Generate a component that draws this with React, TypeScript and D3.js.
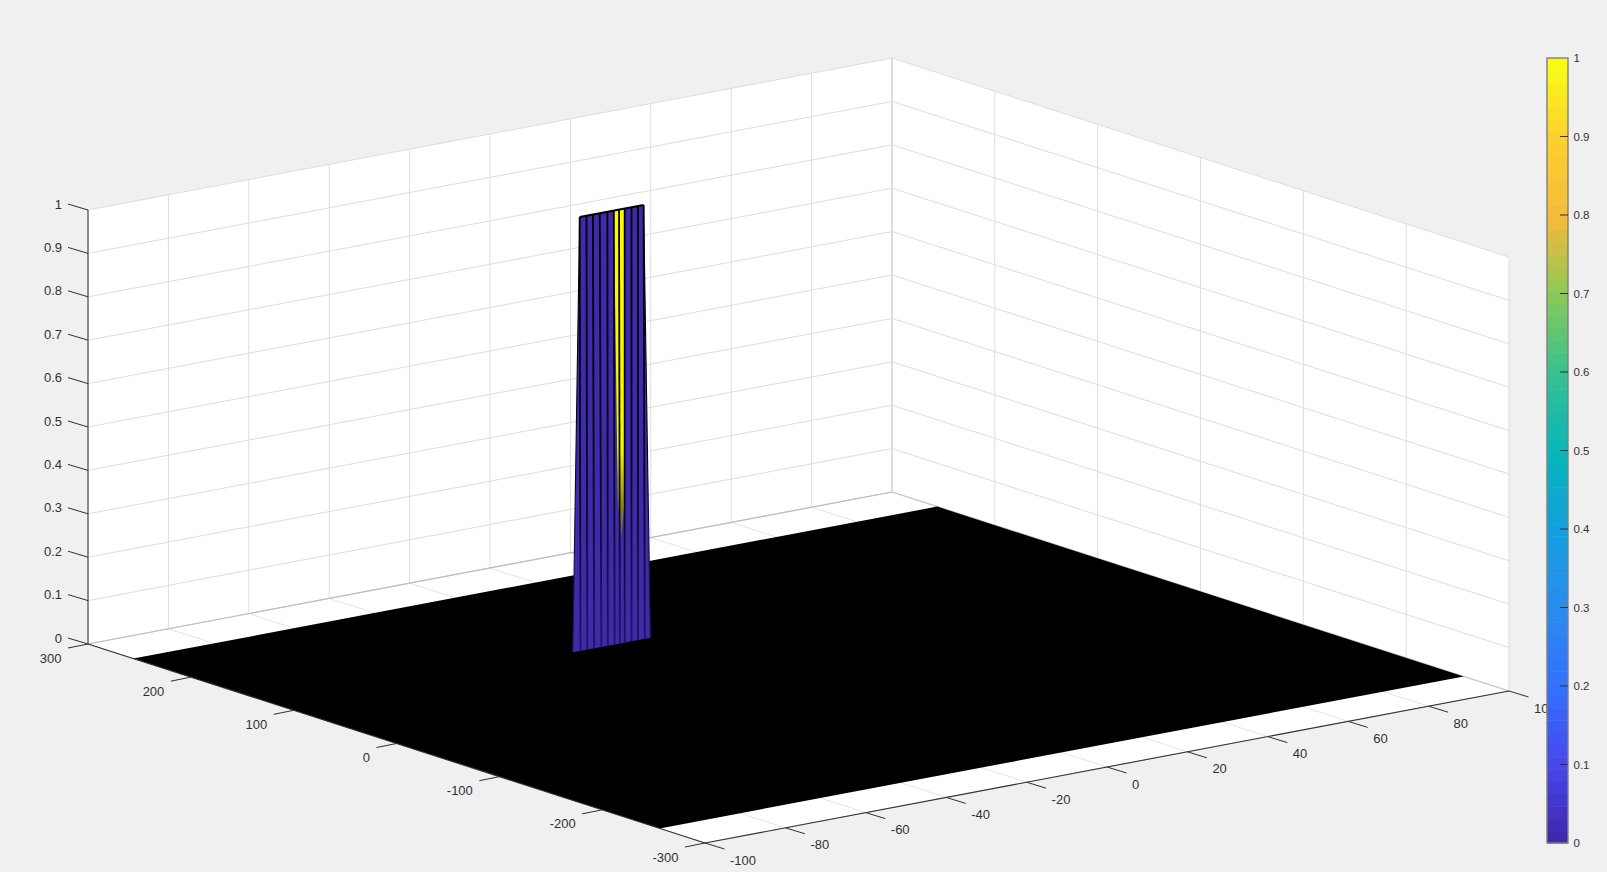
import React from "react";
import * as d3 from "d3";

const xTicks = [-100, -80, -60, -40, -20, 0, 20, 40, 60, 80, 100];
const yTicks = [-300, -200, -100, 0, 100, 200, 300];
const zTicks = [0, 0.1, 0.2, 0.3, 0.4, 0.5, 0.6, 0.7, 0.8, 0.9, 1];
const floorX = [-100, 100];
const floorY = [-256, 256];
const wallY = 110;
const wallTopX = [-26.3, -24.6, -23.0, -21.3, -19.4, -17.8, -16.5, -15.1, -13.4, -11.8, -10.4];
const wallBaseX = [-28.0, -26.1, -24.4, -22.7, -20.9, -19.3, -17.6, -16.3, -15.1, -13.4, -11.8, -10.1, -8.7];
const yellowZ = [1, 0.33, 0.25];
const yellowLeftX = [-17.8, -16.8, -16.2];
const yellowMidX = [-16.5, -16.4, -16.2];
const yellowRightX = [-15.1, -15.1, -15.8];
const parulaStops = ["#3e26a8", "#4747eb", "#3371fd", "#2a8bee", "#139fde", "#06b6bb", "#35c093", "#86c958", "#f4ba3a", "#fccf30", "#f9fb15"];

const px = d3.scaleLinear().domain([-100, 100]).range([0, 804]);
const py = d3.scaleLinear().domain([-100, 100]).range([0, -152]);
const qx = d3.scaleLinear().domain([-300, 300]).range([0, -617]);
const qy = d3.scaleLinear().domain([-300, 300]).range([0, -199]);
const zy = d3.scaleLinear().domain([0, 1]).range([0, -434]);
const OX = 705;
const OY = 843;
const P = (x: number, y: number, z: number): [number, number] => [OX + px(x) + qx(y), OY + py(x) + qy(y) + zy(z)];
const pts = (a: [number, number][]) => a.map((p) => p.join(",")).join(" ");
const seg = (a: [number, number], b: [number, number], stroke: string, w: number, key: string, extra: any = {}) => (
  <line key={key} x1={a[0]} y1={a[1]} x2={b[0]} y2={b[1]} stroke={stroke} strokeWidth={w} {...extra} />
);

const colorAt = d3.scaleLinear<string>().domain(zTicks).range(parulaStops).interpolate(d3.interpolateRgb);
const cbY = d3.scaleLinear().domain([0, 1]).range([843, 58]);
const bands = d3.range(64);

const GRID = "#dddddd";
const FLOORGRID = "#e4e4e4";
const AX = "#303030";
const BLUE = "#3f2aa9";
const FONT = "'Liberation Sans', Arial, sans-serif";

export default function App() {
  const xA = -100, xB = 100, yA = -300, yB = 300;
  const outX = (x: number, y: number, z: number) => {
    const [a, b] = P(x, y, z);
    return [a + 19.5, b + 6] as [number, number];
  };
  const outY = (x: number, y: number, z: number) => {
    const [a, b] = P(x, y, z);
    return [a - 20, b + 4] as [number, number];
  };
  const outZ = (x: number, y: number, z: number) => {
    const [a, b] = P(x, y, z);
    return [a - 20, b - 6] as [number, number];
  };
  const strips: React.ReactNode[] = [];
  const n = wallTopX.length;
  strips.push(
    <polygon key="triL" points={pts([P(wallTopX[0], wallY, 1), P(wallBaseX[0], wallY, 0), P(wallBaseX[1], wallY, 0)])} fill={BLUE} />,
    <polygon key="triR" points={pts([P(wallTopX[n - 1], wallY, 1), P(wallBaseX[n], wallY, 0), P(wallBaseX[n + 1], wallY, 0)])} fill={BLUE} />
  );
  for (let i = 0; i < n - 1; i++) {
    strips.push(
      <polygon
        key={"s" + i}
        points={pts([P(wallTopX[i], wallY, 1), P(wallTopX[i + 1], wallY, 1), P(wallBaseX[i + 2], wallY, 0), P(wallBaseX[i + 1], wallY, 0)])}
        fill={BLUE}
      />
    );
  }
  const leftPoly = [...yellowLeftX.map((x, i) => P(x, wallY, yellowZ[i])), ...yellowMidX.map((x, i) => P(x, wallY, yellowZ[i])).reverse()];
  const rightPoly = [...yellowMidX.map((x, i) => P(x, wallY, yellowZ[i])), ...yellowRightX.map((x, i) => P(x, wallY, yellowZ[i])).reverse()];
  const wallLines: React.ReactNode[] = [];
  wallTopX.forEach((x, i) => {
    wallLines.push(seg(P(x, wallY, 1), P(wallBaseX[i + 1], wallY, 0), "url(#lineFade)", 1.8, "l" + i));
  });
  wallLines.push(seg(P(wallTopX[0], wallY, 1), P(wallBaseX[0], wallY, 0), "url(#lineFade)", 1.1, "le"));
  wallLines.push(seg(P(wallTopX[n - 1], wallY, 1), P(wallBaseX[n + 1], wallY, 0), "url(#lineFade)", 1.1, "re"));

  return (
    <svg width={1607} height={872} style={{ position: "absolute", left: 0, top: 0, background: "#f0f0f0", fontFamily: FONT }}>
      <defs>
        <linearGradient id="lineFade" gradientUnits="userSpaceOnUse" x1="0" y1="205" x2="0" y2="650">
          <stop offset="0" stopColor="#000000" />
          <stop offset="0.6" stopColor="#06041c" />
          <stop offset="1" stopColor="#1e1660" />
        </linearGradient>
        <linearGradient id="yellowFade" gradientUnits="userSpaceOnUse" x1="0" y1="205" x2="0" y2="545">
          <stop offset="0" stopColor="#fbfb00" />
          <stop offset="0.72" stopColor="#f6f600" />
          <stop offset="0.88" stopColor="#8f8c14" />
          <stop offset="1" stopColor="#4a3f70" />
        </linearGradient>
      </defs>
      {/* walls and floor */}
      <polygon points={pts([P(xA, yB, 0), P(xA, yB, 1), P(xB, yB, 1), P(xB, yA, 1), P(xB, yA, 0), P(xA, yA, 0)])} fill="#ffffff" />
      {xTicks.map((x) => seg(P(x, yB, 0), P(x, yB, 1), GRID, 1, "gx" + x))}
      {yTicks.map((y) => seg(P(xB, y, 0), P(xB, y, 1), GRID, 1, "gy" + y))}
      {zTicks.map((z) => seg(P(xA, yB, z), P(xB, yB, z), GRID, 1, "gzl" + z))}
      {zTicks.map((z) => seg(P(xB, yB, z), P(xB, yA, z), GRID, 1, "gzr" + z))}
      {xTicks.map((x) => seg(P(x, yA, 0), P(x, yB, 0), FLOORGRID, 1, "fx" + x))}
      {yTicks.map((y) => seg(P(xA, y, 0), P(xB, y, 0), FLOORGRID, 1, "fy" + y))}
      {seg(P(xB, yB, 0), P(xB, yB, 1), "#dcdcdc", 2, "backEdge")}
      {seg(P(xA, yB, 0), P(xB, yB, 0), "#bdbdbd", 1.2, "fb1")}
      {seg(P(xB, yB, 0), P(xB, yA, 0), "#c6c6c6", 1.2, "fb2")}
      {seg(P(xA, yB, 0), P(xA, yB, 1), "#8a8a8a", 2, "zAxis")}
      <polygon
        points={pts([P(floorX[0], floorY[0], 0), P(floorX[1], floorY[0], 0), P(floorX[1], floorY[1], 0), P(floorX[0], floorY[1], 0)])}
        fill="#000000"
      />
      {/* axes */}
      {seg(P(xA, yA, 0), P(xB, yA, 0), AX, 1.1, "xAxis")}
      {seg(P(xA, yA, 0), P(xA, yB, 0), AX, 1.1, "yAxis")}
      {xTicks.map((x) => seg(P(x, yA, 0), outX(x, yA, 0), AX, 1, "tx" + x))}
      {yTicks.map((y) => seg(P(xA, y, 0), outY(xA, y, 0), AX, 1, "ty" + y))}
      {zTicks.map((z) => seg(P(xA, yB, z), outZ(xA, yB, z), AX, 1, "tz" + z))}
      {xTicks.map((x) => {
        const [a, b] = outX(x, yA, 0);
        return (
          <text key={"lx" + x} x={a + 5.5} y={b + 15.5} fontSize={13} fill={AX}>
            {x}
          </text>
        );
      })}
      {yTicks.map((y) => {
        const [a, b] = outY(xA, y, 0);
        return (
          <text key={"ly" + y} x={a - 6.5} y={b + 14.5} fontSize={13} fill={AX} textAnchor="end">
            {y}
          </text>
        );
      })}
      {zTicks.map((z) => {
        const [a, b] = outZ(xA, yB, z);
        return (
          <text key={"lz" + z} x={a - 6} y={b + 4.5} fontSize={13} fill={AX} textAnchor="end">
            {z}
          </text>
        );
      })}
      {/* surface wall */}
      {strips}
      <polygon points={pts(leftPoly)} fill="url(#yellowFade)" />
      <polygon points={pts(rightPoly)} fill="url(#yellowFade)" />
      {wallLines}
      {seg(P(wallTopX[0], wallY, 1), P(wallTopX[n - 1], wallY, 1), "#000000", 2, "wallTop")}
      {/* colorbar */}
      {bands.map((b) => {
        const t0 = b / 64;
        const t1 = (b + 1) / 64;
        return (
          <rect key={"c" + b} x={1547} y={cbY(t1)} width={21} height={cbY(t0) - cbY(t1) + 0.5} fill={colorAt((b + 0.5) / 63.5)} />
        );
      })}
      <rect x={1547} y={58} width={21} height={785} fill="none" stroke="#7f7f7f" strokeWidth={1.4} />
      {zTicks.map((z) => (
        <g key={"cb" + z}>
          {z > 0 && z < 1 ? seg([1560, cbY(z)], [1568, cbY(z)], AX, 1, "k") : null}
          <text x={1573.5} y={cbY(z) + 4} fontSize={11.5} fill={AX}>
            {z}
          </text>
        </g>
      ))}
    </svg>
  );
}
